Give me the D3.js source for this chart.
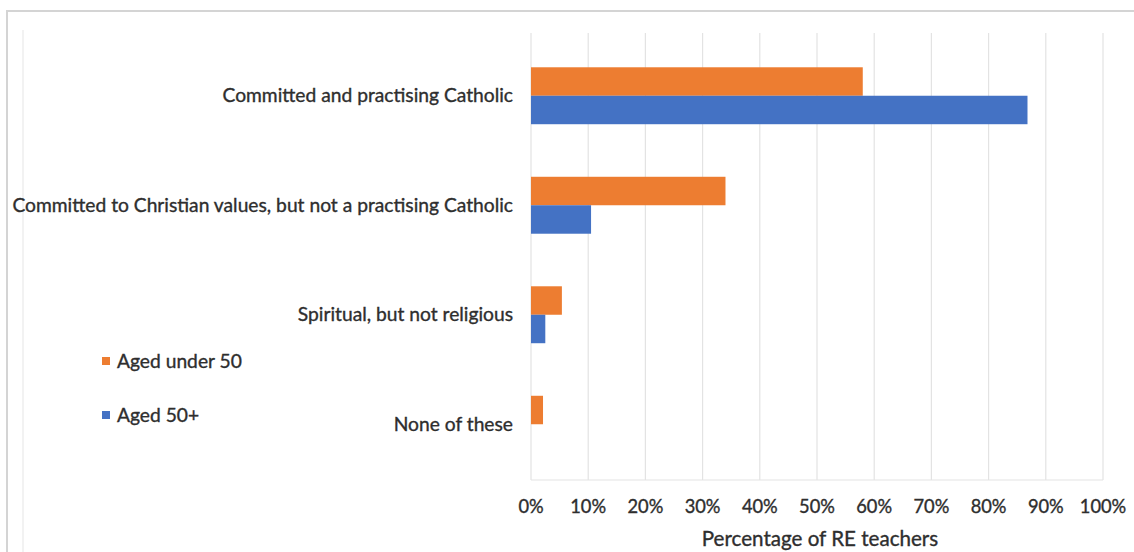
<!DOCTYPE html>
<html>
<head>
<meta charset="utf-8">
<script src="https://cdn.jsdelivr.net/npm/d3@7"></script>
<style>
  html, body { margin: 0; padding: 0; background: #fff; }
  svg { display: block; }
  text { font-family: Lato, "Open Sans", sans-serif; fill: #2e2e2e; stroke: #2e2e2e; stroke-width: 0.35px; }
</style>
</head>
<body>
<svg id="chart" width="1134" height="552"></svg>
<script>
const categories = [
  "Committed and practising Catholic",
  "Committed to Christian values, but not a practising Catholic",
  "Spiritual, but not religious",
  "None of these"
];
const seriesNames = ["Aged under 50", "Aged 50+"];
const under50 = [58, 34, 5.4, 2.1];
const over50 = [86.8, 10.5, 2.5, 0];
const tickValues = [0, 10, 20, 30, 40, 50, 60, 70, 80, 90, 100];
const axisTitle = "Percentage of RE teachers";
const colors = ["#ED7D31", "#4472C4"];

const svg = d3.select("#chart");

// outer frame
svg.append("rect").attr("x", 7).attr("y", 11).attr("width", 1140).attr("height", 560)
  .attr("fill", "#fff").attr("stroke", "#d4d4d4").attr("stroke-width", 2);
svg.append("line").attr("x1", 23).attr("x2", 23).attr("y1", 30).attr("y2", 552)
  .attr("stroke", "#f2f2f2").attr("stroke-width", 2);

const x = d3.scaleLinear().domain([0, 100]).range([531, 1103]);
const y = d3.scaleBand().domain(categories).range([41, 479]).paddingInner(0.48).paddingOuter(0.24);
const ySub = d3.scaleBand().domain(seriesNames).range([0, y.bandwidth()]);

// gridlines
svg.append("g").selectAll("line").data(tickValues).join("line")
  .attr("x1", d => x(d)).attr("x2", d => x(d))
  .attr("y1", 33).attr("y2", 480)
  .attr("stroke", "#e3e3e3").attr("stroke-width", 1.2);
svg.append("line").attr("x1", x(0)).attr("x2", x(100)).attr("y1", 480).attr("y2", 480)
  .attr("stroke", "#e3e3e3").attr("stroke-width", 1.2);

// bars
const data = [under50, over50];
data.forEach((vals, si) => {
  svg.append("g").selectAll("rect").data(categories).join("rect")
    .attr("x", x(0))
    .attr("y", c => y(c) + ySub(seriesNames[si]))
    .attr("width", (c, i) => x(vals[i]) - x(0))
    .attr("height", ySub.bandwidth())
    .attr("fill", colors[si]);
});

// category labels
const catLabels = svg.append("g").selectAll("text").data(categories).join("text")
  .attr("x", 513)
  .attr("y", c => y(c) + y.bandwidth() / 2)
  .attr("dy", "0.35em")
  .attr("text-anchor", "end")
  .style("font-size", "16px")
  .text(c => c);

// fit font size so the longest label spans ~501px
let longest = 0;
catLabels.each(function() { longest = Math.max(longest, this.getComputedTextLength()); });
const fs = 16 * 501 / longest;
catLabels.style("font-size", fs + "px");

// x axis tick labels
svg.append("g").selectAll("text").data(tickValues).join("text")
  .attr("x", d => x(d))
  .attr("y", 507)
  .attr("dy", "0.35em")
  .attr("text-anchor", "middle")
  .style("font-size", (fs * 0.95) + "px")
  .text(d => d + "%");

// axis title
svg.append("text")
  .attr("x", (x(0) + x(100)) / 2 + 3)
  .attr("y", 539)
  .attr("dy", "0.35em")
  .attr("text-anchor", "middle")
  .style("font-size", (fs * 1.07) + "px")
  .text(axisTitle);

// legend
const legendY = [361, 415];
const lg = svg.append("g");
seriesNames.forEach((name, i) => {
  lg.append("rect").attr("x", 102).attr("y", legendY[i] - 4).attr("width", 8).attr("height", 8)
    .attr("fill", colors[i]);
  lg.append("text").attr("x", 117).attr("y", legendY[i]).attr("dy", "0.35em")
    .style("font-size", fs + "px").text(name);
});
</script>
</body>
</html>
